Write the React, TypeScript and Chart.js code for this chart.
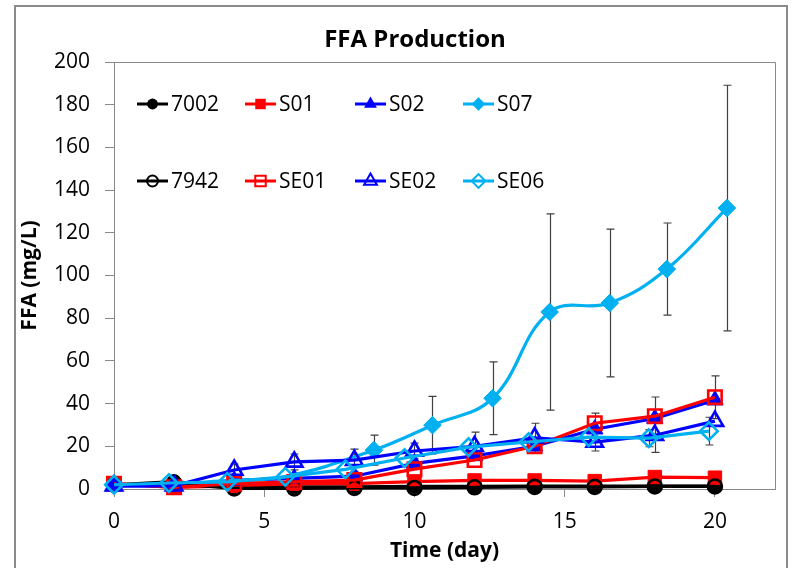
import React, { useEffect, useRef } from 'react';
import { Chart, registerables } from 'chart.js';

Chart.register(...registerables);

const FONT = '"Open Sans", "DejaVu Sans", sans-serif';

const chartTitle = 'FFA Production';
const xAxisTitle = 'Time (day)';
const yAxisTitle = 'FFA (mg/L)';

const xTickValues = [0, 5, 10, 15, 20];
const xMin = 0;
const xMax = 22;
const yMin = 0;
const yMax = 200;
const yStep = 20;

const seriesNames = ['7002', 'S01', 'S02', 'S07', '7942', 'SE01', 'SE02', 'SE06'];

// sampling times (day)
const dayGrid = [0, 2, 4, 6, 8, 10, 12, 14, 16, 18, 20];
const s07Days = [0, 1.85, 3.8, 5.7, 8.65, 10.6, 12.6, 14.5, 16.5, 18.4, 20.4];
const se06Days = [0, 1.83, 3.77, 5.7, 7.7, 9.67, 11.8, 13.8, 15.8, 17.8, 19.8];

// FFA values (mg/L)
const y7002 = [2, 3.5, 1, 1, 1, 1.2, 1.2, 1.3, 1.4, 1.4, 1.4];
const yS01 = [2.5, 0.8, 1.5, 2.5, 2.5, 3.5, 4, 4, 3.7, 5.6, 5.3];
const yS02 = [1.5, 1.5, 4, 5, 6, 12, 15.5, 20, 28, 33, 41.6];
const yS07 = [2, 2.2, 4, 5.8, 18.2, 29.9, 42.5, 82.9, 87.1, 103, 131.6];
const y7942 = [2, 2.5, 0.3, 0.3, 0.5, 0.5, 0.8, 1, 1, 1.2, 1.2];
const ySE01 = [2.5, 0.8, 2.5, 3.3, 4.2, 9.3, 13.6, 20, 30.8, 34.1, 43];
const ySE02 = [1.5, 1.5, 8.9, 12.7, 13.5, 17.8, 20, 24, 22, 25.2, 31.8];
const ySE06 = [2, 2.8, 3.3, 5.7, 9.2, 14.5, 19.6, 22, 24.3, 23.8, 27.1];

// error bar half-widths (mg/L)
const errS07 = [0, 0, 0, 0, 7, 13.5, 17, 46, 34.6, 21.6, 57.5];
const errSE01 = [0, 0, 0, 0, 0, 0, 0, 0, 4.7, 9, 10];
const errSE02 = [0, 0, 2.8, 3.7, 5.2, 3.7, 6.6, 6.8, 4.2, 8, 0];
const errSE06 = [0, 0, 0, 0, 0, 0, 0, 0, 0, 4, 6.5];

const seriesX = [dayGrid, dayGrid, dayGrid, s07Days, dayGrid, dayGrid, dayGrid, se06Days];
const seriesY = [y7002, yS01, yS02, yS07, y7942, ySE01, ySE02, ySE06];
const seriesErr = [null, null, null, errS07, null, errSE01, errSE02, errSE06];

// styles
const seriesColors = ['#000000', '#FF0000', '#0000FF', '#00B0F0', '#000000', '#FF0000', '#0000FF', '#00B0F0'];
const seriesMarkers = ['circle', 'rect', 'triangle', 'rectRot', 'circle', 'rect', 'triangle', 'rectRot'];
const seriesFilled = [true, true, true, true, false, false, false, false];
const seriesTension = [0, 0, 0, 0.4, 0, 0, 0, 0];
// number of leading points whose markers sit hidden under another series
const seriesHiddenLeading = [0, 0, 0, 4, 0, 0, 0, 0];
const markerRadius: Record<string, number> = { circle: 7, rect: 9.5, triangle: 9.5, rectRot: 8.8 };

const AXIS_GRAY = '#898989';

function drawMarker(ctx: CanvasRenderingContext2D, style: string, x: number, y: number, r: number) {
  ctx.beginPath();
  if (style === 'circle') {
    ctx.arc(x, y, r, 0, Math.PI * 2);
  } else if (style === 'rect') {
    const s = Math.SQRT1_2 * r;
    ctx.rect(x - s, y - s, 2 * s, 2 * s);
  } else if (style === 'triangle') {
    let rad = 0;
    ctx.moveTo(x + Math.sin(rad) * r, y - Math.cos(rad) * r);
    rad += (2 * Math.PI) / 3;
    ctx.lineTo(x + Math.sin(rad) * r, y - Math.cos(rad) * r);
    rad += (2 * Math.PI) / 3;
    ctx.lineTo(x + Math.sin(rad) * r, y - Math.cos(rad) * r);
    ctx.closePath();
  } else {
    ctx.moveTo(x - r, y);
    ctx.lineTo(x, y - r);
    ctx.lineTo(x + r, y);
    ctx.lineTo(x, y + r);
    ctx.closePath();
  }
}

const decorPlugin = {
  id: 'decor',
  beforeDatasetsDraw(chart: any) {
    const ctx = chart.ctx as CanvasRenderingContext2D;
    const { left, top, right, bottom } = chart.chartArea;
    ctx.save();
    ctx.strokeStyle = AXIS_GRAY;
    ctx.lineWidth = 1;
    ctx.beginPath();
    ctx.moveTo(left, top + 0.5);
    ctx.lineTo(right + 0.5, top + 0.5);
    ctx.lineTo(right + 0.5, bottom);
    ctx.stroke();

    // error bars
    const xs = chart.scales.x;
    const ys = chart.scales.y;
    ctx.strokeStyle = '#404040';
    ctx.lineWidth = 1.2;
    seriesErr.forEach((errs, si) => {
      if (!errs) return;
      errs.forEach((e, i) => {
        if (!e) return;
        const px = Math.round(xs.getPixelForValue(seriesX[si][i])) + 0.5;
        const yv = seriesY[si][i];
        const pTop = ys.getPixelForValue(yv + e);
        const pBot = ys.getPixelForValue(yv - e);
        ctx.beginPath();
        ctx.moveTo(px, pTop);
        ctx.lineTo(px, pBot);
        ctx.moveTo(px - 4, pTop);
        ctx.lineTo(px + 4, pTop);
        ctx.moveTo(px - 4, pBot);
        ctx.lineTo(px + 4, pBot);
        ctx.stroke();
      });
    });
    ctx.restore();
  },
  afterDraw(chart: any) {
    const ctx = chart.ctx as CanvasRenderingContext2D;
    const { left, top, right, bottom } = chart.chartArea;
    ctx.save();
    // outer border
    ctx.strokeStyle = '#8a8a8a';
    ctx.lineWidth = 2;
    ctx.strokeRect(15, 6, 772, 580);

    ctx.fillStyle = '#000';
    ctx.textAlign = 'center';
    ctx.textBaseline = 'middle';
    ctx.font = `bold 24px ${FONT}`;
    ctx.fillText(chartTitle, 415, 40);

    ctx.font = `bold 21px ${FONT}`;
    ctx.fillText(xAxisTitle, (left + right) / 2, 551);

    ctx.save();
    ctx.translate(30, (top + bottom) / 2);
    ctx.rotate(-Math.PI / 2);
    ctx.fillText(yAxisTitle, 0, 0);
    ctx.restore();

    // legend (2 rows x 4 columns, inside the plot area)
    const colStarts = [137, 245, 355, 463];
    const rowYs = [104, 181];
    ctx.font = `21px ${FONT}`;
    ctx.textAlign = 'left';
    seriesNames.forEach((name, i) => {
      const col = i % 4;
      const row = Math.floor(i / 4);
      const x0 = colStarts[col];
      const y0 = rowYs[row];
      const color = seriesColors[i];
      ctx.strokeStyle = color;
      ctx.lineWidth = 3;
      ctx.beginPath();
      ctx.moveTo(x0, y0);
      ctx.lineTo(x0 + 31, y0);
      ctx.stroke();
      const st = seriesMarkers[i];
      const r = markerRadius[st] * 0.78;
      drawMarker(ctx, st, x0 + 15.5, y0, r);
      if (seriesFilled[i]) {
        ctx.fillStyle = color;
        ctx.fill();
      } else {
        ctx.lineWidth = 2;
        ctx.stroke();
      }
      ctx.fillStyle = '#000';
      ctx.fillText(name, x0 + 34, y0 + 1);
    });
    ctx.restore();
  },
};

export default function App() {
  const canvasRef = useRef<HTMLCanvasElement | null>(null);

  useEffect(() => {
    if (!canvasRef.current) return;
    const datasets = seriesNames.map((name, i) => ({
      label: name,
      data: seriesX[i].map((x, j) => ({ x, y: seriesY[i][j] })),
      borderColor: seriesColors[i],
      backgroundColor: seriesColors[i],
      borderWidth: 3.2,
      tension: seriesTension[i],
      pointStyle: seriesMarkers[i],
      pointRadius: seriesX[i].map((_, j) => (j < seriesHiddenLeading[i] ? 0 : markerRadius[seriesMarkers[i]])),
      pointBorderWidth: seriesFilled[i] ? 1 : 2.6,
      pointBackgroundColor: seriesFilled[i] ? seriesColors[i] : 'rgba(0,0,0,0)',
      pointBorderColor: seriesColors[i],
      fill: false,
      clip: false,
      order: seriesNames.length - 1 - i,
    }));

    const chart = new Chart(canvasRef.current, {
      type: 'line',
      data: { datasets },
      options: {
        responsive: false,
        maintainAspectRatio: false,
        devicePixelRatio: 1,
        animation: false,
        events: [],
        layout: { padding: { left: 0, right: 17, top: 62, bottom: 0 } },
        plugins: {
          legend: { display: false },
          title: { display: false },
          tooltip: { enabled: false },
        },
        scales: {
          x: {
            type: 'linear',
            min: xMin,
            max: xMax,
            afterBuildTicks: (scale: any) => {
              scale.ticks = xTickValues.map((v) => ({ value: v }));
            },
            afterFit: (scale: any) => {
              scale.height = 79;
            },
            ticks: {
              color: '#000',
              font: { family: FONT, size: 21 },
              padding: 12,
              maxRotation: 0,
              autoSkip: false,
            },
            grid: { drawOnChartArea: false, drawTicks: true, tickLength: 8, color: AXIS_GRAY },
            border: { display: true, color: AXIS_GRAY, width: 1 },
          },
          y: {
            type: 'linear',
            min: yMin,
            max: yMax,
            afterFit: (scale: any) => {
              scale.width = 114;
            },
            ticks: {
              stepSize: yStep,
              color: '#000',
              font: { family: FONT, size: 21 },
              padding: 15,
            },
            grid: { drawOnChartArea: false, drawTicks: true, tickLength: 9, color: AXIS_GRAY },
            border: { display: true, color: AXIS_GRAY, width: 1 },
          },
        },
      },
      plugins: [decorPlugin],
    } as any);
    return () => chart.destroy();
  }, []);

  return (
    <div style={{ position: 'absolute', left: 0, top: 0, width: 792, height: 568, background: '#fff' }}>
      <canvas ref={canvasRef} width={792} height={568} style={{ display: 'block' }} />
    </div>
  );
}
